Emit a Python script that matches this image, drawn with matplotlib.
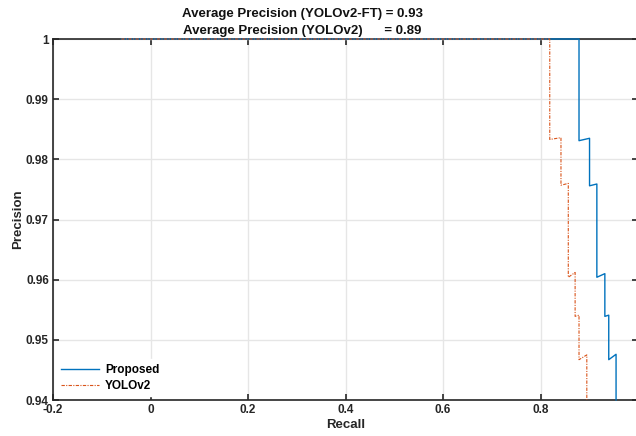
import matplotlib
matplotlib.use("Agg")
import matplotlib.pyplot as plt

plt.rcParams['font.family'] = ['Liberation Sans', 'DejaVu Sans']

# PR curve points (curves leave the plot at 0.94)
proposed_recall = [-0.06, 0.879, 0.879, 0.9006, 0.9006, 0.9156, 0.9156, 0.932, 0.932, 0.940, 0.940, 0.955, 0.955]
proposed_prec = [1.0, 1.0, 0.9831, 0.9835, 0.9756, 0.9759, 0.9604, 0.9610, 0.9539, 0.9541, 0.9467, 0.9476, 0.94]

yolo_recall = [-0.06, 0.819, 0.819, 0.842, 0.842, 0.857, 0.857, 0.871, 0.871, 0.879, 0.879, 0.895, 0.895]
yolo_prec = [1.0, 1.0, 0.9833, 0.9836, 0.9757, 0.9760, 0.9604, 0.9612, 0.9539, 0.9541, 0.9467, 0.9475, 0.94]

xticks = [-0.2, 0, 0.2, 0.4, 0.6, 0.8]
yticks = [0.94, 0.95, 0.96, 0.97, 0.98, 0.99, 1]
ytick_labels = ['0.94', '0.95', '0.96', '0.97', '0.98', '0.99', '1']

fig = plt.figure(figsize=(6.36, 4.36), dpi=100)
ax = fig.add_axes([53 / 636, 1 - 400 / 436, 585 / 636, 361 / 436])

ax.set_xlim(-0.2, 1.0)
ax.set_ylim(0.94, 1.0)

# draw lines above the spines so the precision=1 part shows on the top edge
ax.plot(proposed_recall, proposed_prec, color='#0072BD', linewidth=1.0,
        label='Proposed', zorder=3)
ax.plot(yolo_recall, yolo_prec, color='#D95319', linewidth=0.8,
        linestyle=(0, (3, 1.2, 1, 1.2)), label='YOLOv2', zorder=3.1)
for ln in ax.lines:
    ln.set_clip_on(False)

ax.set_xticks(xticks)
ax.set_xticklabels(['-0.2', '0', '0.2', '0.4', '0.6', '0.8'])
ax.set_yticks(yticks)
ax.set_yticklabels(ytick_labels)

ax.grid(True, color='#e6e6e6', linewidth=1.0)
ax.set_axisbelow(True)
ax.tick_params(direction='in', length=4, width=1.2, top=True, right=True,
               labelsize=8.5, colors='#262626', pad=3)
for lbl in ax.get_xticklabels() + ax.get_yticklabels():
    lbl.set_fontweight('bold')
for sp in ax.spines.values():
    sp.set_color('#262626')
    sp.set_linewidth(1.2)

ax.set_xlabel('Recall', fontsize=9.5, fontweight='bold', color='#262626', labelpad=2)
ax.set_ylabel('Precision', fontsize=9.5, fontweight='bold', color='#262626', labelpad=1)

fig.text(302 / 636, 1 - 14 / 436, 'Average Precision (YOLOv2-FT) = 0.93',
         ha='center', va='center', fontsize=9.5, fontweight='bold', color='#111111')
fig.text(302 / 636, 1 - 31 / 436, 'Average Precision (YOLOv2)      = 0.89',
         ha='center', va='center', fontsize=9.5, fontweight='bold', color='#111111')

leg = ax.legend(loc='lower left', fontsize=8.5, frameon=True, framealpha=1,
                edgecolor='white', borderaxespad=0.3, handlelength=3.2,
                handletextpad=0.5, labelspacing=0.3)
leg.set_zorder(4)
for t in leg.get_texts():
    t.set_fontweight('bold')

fig.savefig('out.png', dpi=100)
